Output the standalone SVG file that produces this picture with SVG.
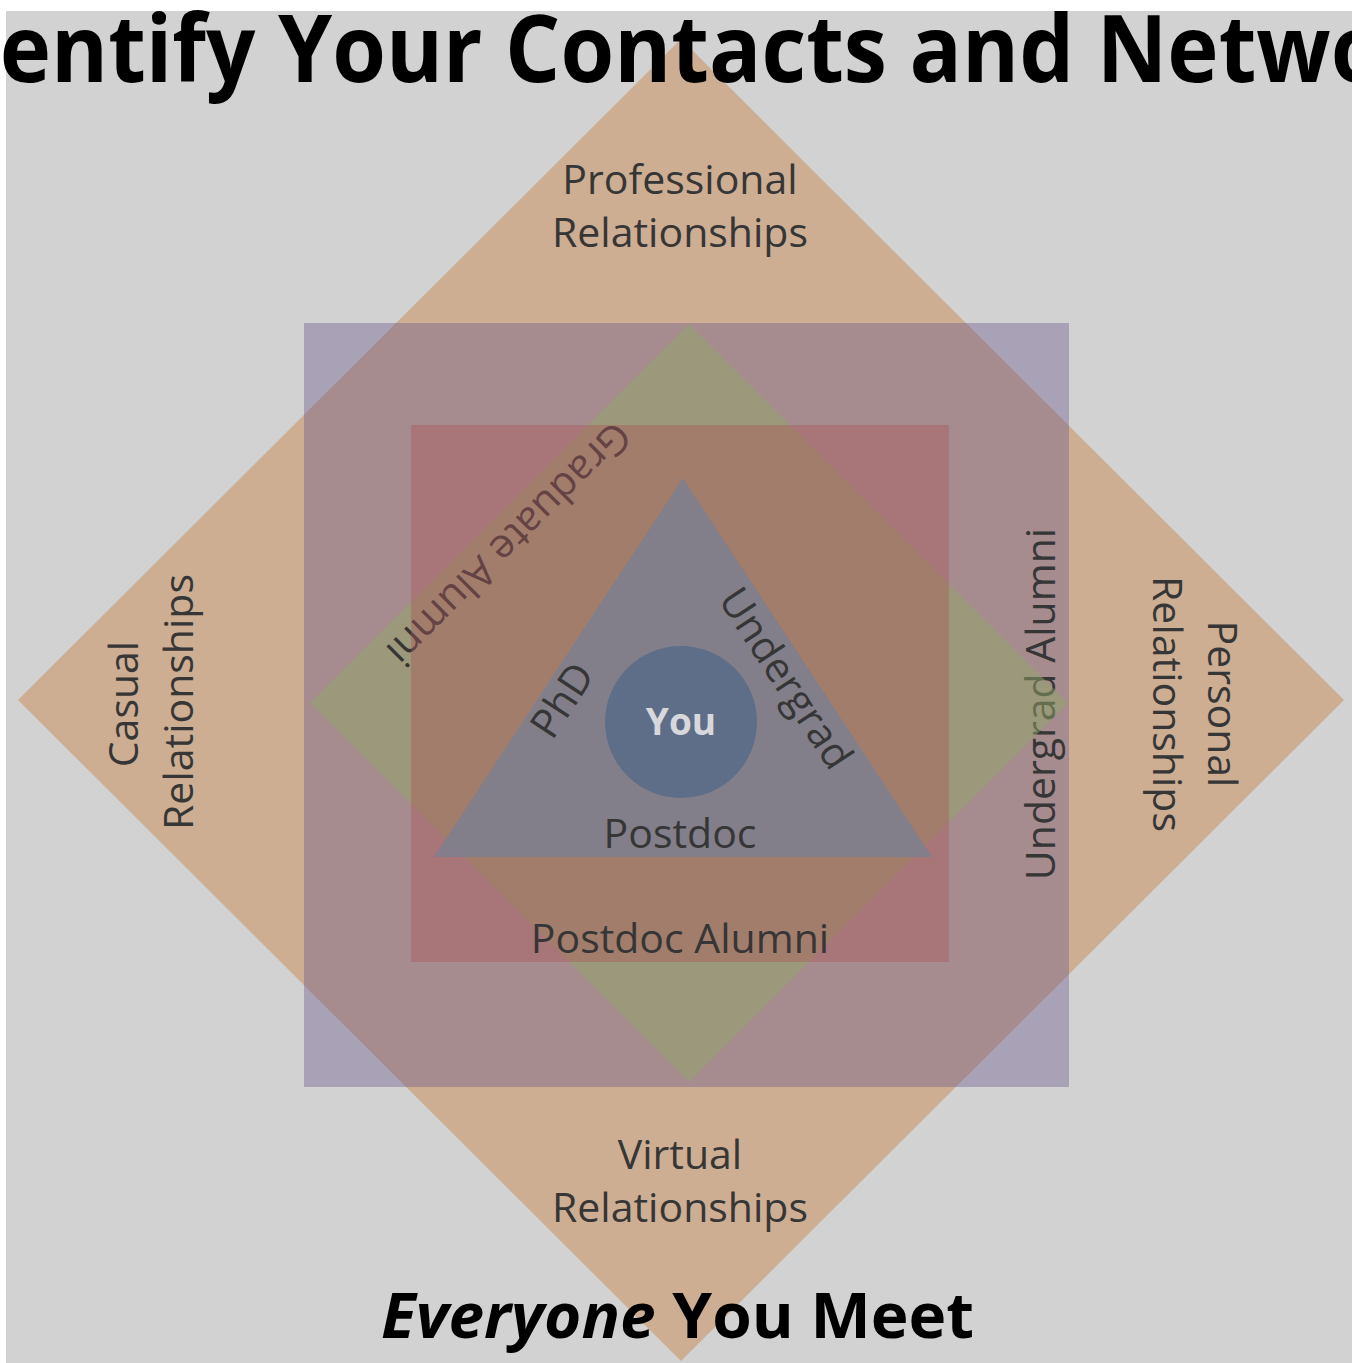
<svg xmlns="http://www.w3.org/2000/svg" width="1352" height="1363" viewBox="0 0 1352 1363">
  <style>
    .lbl { font-family: "Open Sans", "Noto Sans", "DejaVu Sans", sans-serif; font-size: 41px; fill: #363636; text-anchor: middle; }
    .title { font-family: "Open Sans", "Noto Sans", sans-serif; font-weight: 700; fill: #000; }
    .you { font-family: "Open Sans", "Noto Sans", sans-serif; font-weight: 700; font-size: 37px; fill: #d8d8dc; text-anchor: middle; }
  </style>

  <!-- canvas -->
  <rect x="0" y="0" width="1352" height="1363" fill="#ffffff"/>
  <rect x="6" y="11" width="1346" height="1352" fill="#d2d2d2"/>

  <!-- outer diamond: relationship types -->
  <g id="relationships">
    <polygon points="681,39 1344,700 681,1361 18,700" fill="#c88a54" fill-opacity="0.5"/>
  </g>

  <!-- alumni square -->
  <g id="alumni-square">
    <rect x="304" y="323" width="765" height="764" fill="#6b5789" fill-opacity="0.4"/>
  </g>

  <g id="undergrad-alumni">
    <text class="lbl" transform="translate(1055,704) rotate(-90)">Undergrad Alumni</text>
  </g>

  <!-- inner diamond -->
  <g id="inner-diamond">
    <polygon points="689,324 1068,703 689,1082 310,703" fill="#91a567" fill-opacity="0.5"/>
  </g>

  <g id="graduate-alumni">
    <text class="lbl" transform="translate(499,534) rotate(135)">Graduate Alumni</text>
  </g>

  <!-- postdoc alumni square -->
  <g id="postdoc-square">
    <rect x="411" y="425" width="538" height="537" fill="#ac5657" fill-opacity="0.4"/>
  </g>

  <!-- degree triangle -->
  <g id="degrees">
    <polygon points="683,478 932,857 434,857" fill="#7c7f8f" fill-opacity="0.85"/>
  </g>

  <!-- centre -->
  <g id="you">
    <circle cx="681" cy="722" r="76" fill="#5f6e88"/>
    <text class="you" x="681" y="735">You</text>
  </g>

  <!-- labels -->
  <g id="label-professional">
    <text class="lbl" x="680" y="194">Professional</text>
    <text class="lbl" x="680" y="247">Relationships</text>
  </g>
  <g id="label-virtual">
    <text class="lbl" x="680" y="1169">Virtual</text>
    <text class="lbl" x="680" y="1222">Relationships</text>
  </g>
  <g id="label-casual">
    <text class="lbl" transform="translate(138,704) rotate(-90)">Casual</text>
    <text class="lbl" transform="translate(193,702) rotate(-90)">Relationships</text>
  </g>
  <g id="label-personal">
    <text class="lbl" transform="translate(1208,704) rotate(90)">Personal</text>
    <text class="lbl" transform="translate(1153,704) rotate(90)">Relationships</text>
  </g>
  <g id="label-phd">
    <text class="lbl" transform="translate(574,708) rotate(-56.8)">PhD</text>
  </g>
  <g id="label-undergrad">
    <text class="lbl" transform="translate(774,686) rotate(56.8)">Undergrad</text>
  </g>
  <g id="label-postdoc">
    <text class="lbl" x="680" y="848">Postdoc</text>
  </g>
  <g id="label-postdoc-alumni">
    <text class="lbl" x="680" y="953">Postdoc Alumni</text>
  </g>

  <!-- headings -->
  <g id="title">
    <text class="title" x="-84" y="82" font-size="94" textLength="1605" lengthAdjust="spacingAndGlyphs">Identify Your Contacts and Networks</text>
  </g>
  <g id="footer">
    <text class="title" x="381" y="1338" font-size="63" textLength="593" lengthAdjust="spacingAndGlyphs"><tspan font-style="italic">Everyone</tspan> You Meet</text>
  </g>
</svg>
